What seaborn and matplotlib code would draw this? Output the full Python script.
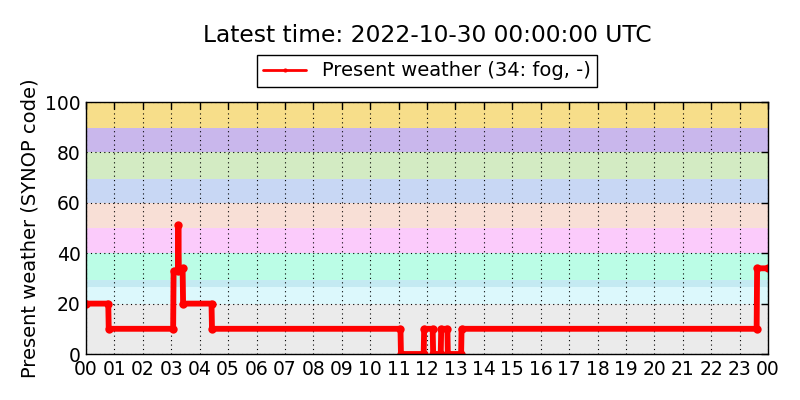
import pandas as pd
import matplotlib
matplotlib.use("Agg")
import matplotlib.pyplot as plt
import matplotlib.dates as mdates
import seaborn as sns

# Present weather observations (change points only)
times = ["2022-10-29 00:00", "2022-10-29 00:47", "2022-10-29 00:48",
         "2022-10-29 03:04", "2022-10-29 03:05", "2022-10-29 03:14",
         "2022-10-29 03:15", "2022-10-29 03:16", "2022-10-29 03:24",
         "2022-10-29 03:25", "2022-10-29 04:25", "2022-10-29 04:26",
         "2022-10-29 11:04", "2022-10-29 11:05", "2022-10-29 11:53",
         "2022-10-29 11:54", "2022-10-29 12:12", "2022-10-29 12:13",
         "2022-10-29 12:29", "2022-10-29 12:30", "2022-10-29 12:43",
         "2022-10-29 12:44", "2022-10-29 13:12", "2022-10-29 13:13",
         "2022-10-29 23:36", "2022-10-29 23:37", "2022-10-30 00:00"]
codes = [20, 20, 10, 10, 33, 33, 51, 34, 34, 20, 20, 10, 10, 0, 0,
         10, 10, 0, 0, 10, 10, 0, 0, 10, 10, 34, 34]

# SYNOP code background bands (low, high, colour)
band_low = [0, 20, 26.5, 29.5, 40, 50, 60, 69.5, 80, 89.5]
band_high = [20, 29.5, 29.5, 40, 50, 60, 69.5, 80, 89.5, 100]
band_colors = ["#ebebeb", "#dcf8fc", "#c4eaf2", "#bbfde6", "#fbcbfb",
               "#f8dfd6", "#c8d7f4", "#d3ebc3", "#c9b7ec", "#f7de8a"]

df = pd.DataFrame({"time": pd.to_datetime(times), "code": codes})

sns.set_theme(style="white")
plt.rcParams["font.family"] = ["DejaVu Sans"]
plt.rcParams["text.color"] = "black"
plt.rcParams["axes.labelcolor"] = "black"

fig = plt.figure(figsize=(8, 4), dpi=100)
ax = fig.add_axes([0.1075, 0.115, 0.8525, 0.63])

for lo, hi, c in zip(band_low, band_high, band_colors):
    ax.axhspan(lo, hi, color=c, lw=0, zorder=0)

sns.lineplot(data=df, x="time", y="code", ax=ax, color="red", lw=4.2,
             marker="o", markersize=6, markeredgewidth=0, sort=False,
             estimator=None, label="Present weather (34: fog, -)", zorder=3)

ax.set_xlim(pd.Timestamp("2022-10-29 00:00"), pd.Timestamp("2022-10-30 00:00"))
ax.set_ylim(0, 100)
ax.set_yticks([0, 20, 40, 60, 80, 100])
ax.xaxis.set_major_locator(mdates.HourLocator())
ax.xaxis.set_major_formatter(mdates.DateFormatter("%H"))
ax.set_xlabel("")
ax.set_ylabel("Present weather (SYNOP code)", fontsize=14)
ax.tick_params(direction="in", length=5, width=1, colors="black",
               labelsize=13.5, top=True, right=True, pad=4)
ax.grid(True, color="black", linestyle=(0, (1, 3)), linewidth=0.8, zorder=1)
ax.set_axisbelow(False)
for s in ax.spines.values():
    s.set_color("black")
    s.set_linewidth(1)
    s.set_zorder(4)

leg = ax.legend(loc="lower center", bbox_to_anchor=(0.5, 1.02), fontsize=14,
                frameon=True, fancybox=False, framealpha=1, edgecolor="black",
                borderpad=0.35, handlelength=2.2)
leg.get_frame().set_linewidth(1)
for h in leg.legend_handles:
    h.set_linewidth(2)
    h.set_markersize(3)

fig.text(0.534, 0.912, "Latest time: 2022-10-30 00:00:00 UTC",
         ha="center", va="center", fontsize=16.8)

fig.savefig("out.png", dpi=100)
